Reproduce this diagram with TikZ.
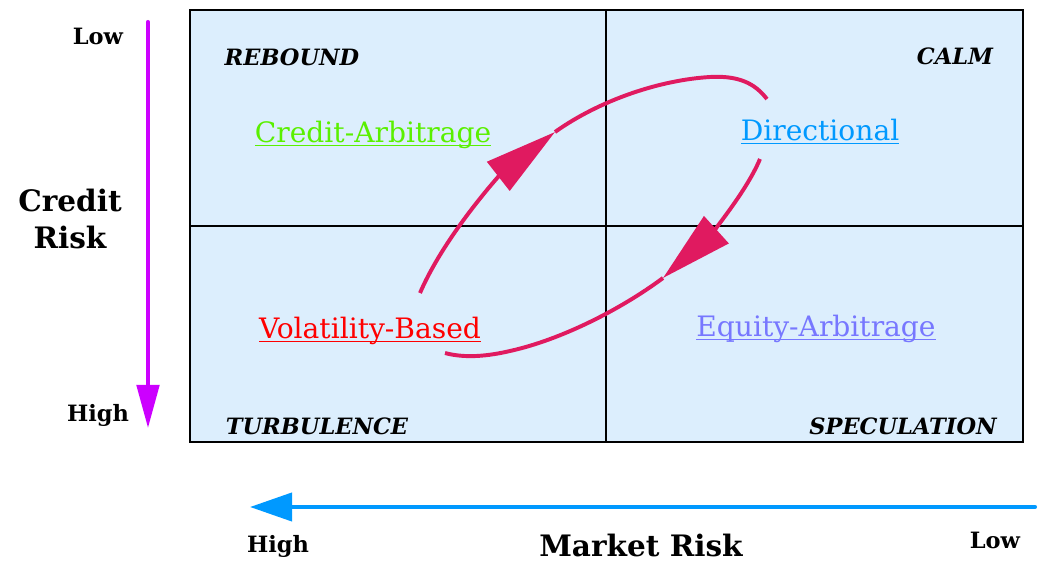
\documentclass[tikz,border=0pt]{standalone}
\usepackage{fontspec}
\setmainfont{DejaVu Serif}
\usetikzlibrary{arrows.meta,positioning}

\definecolor{quadfill}{RGB}{220,238,253}
\definecolor{cyclered}{RGB}{224,26,96}
\definecolor{creditaxis}{RGB}{204,0,255}
\definecolor{marketaxis}{RGB}{0,153,255}
\definecolor{creditarb}{RGB}{90,240,0}
\definecolor{directional}{RGB}{0,153,255}
\definecolor{volbased}{RGB}{255,0,0}
\definecolor{equityarb}{RGB}{119,119,255}

% underlined strategy name, rule runs through the descenders
\newcommand{\linked}[1]{\sbox0{#1}\rlap{\rule[-0.12em]{\wd0}{0.06em}}\usebox0}

\begin{document}
\begin{tikzpicture}[x=0.025cm, y=-0.025cm,
  axislabel/.style={font=\fontsize{16}{18}\selectfont\bfseries, anchor=base},
  axistitle/.style={font=\fontsize{21}{27}\selectfont\bfseries, anchor=base, align=center},
  regime/.style={font=\fontsize{16}{18}\selectfont\bfseries\itshape, anchor=base},
  strategy/.style={font=\fontsize{20}{24}\selectfont, anchor=base},
  cyclepath/.style={cyclered, line width=2.8pt},
  bigtip/.style={-{Triangle[length=1.8cm, width=0.9cm]}},
  grid/.style={line width=1.4pt}]

\useasboundingbox (0,0) rectangle (1042,564);

% Quadrants
\coordinate (nw) at (190,10);
\coordinate (se) at (1023,442);
\draw[grid, fill=quadfill] (nw) rectangle (se);
\draw[grid] (606,10) -- (606,442);
\draw[grid] (190,226) -- (1023,226);

% Credit risk axis
\coordinate (credtop) at (148,22);
\coordinate (credbot) at (148,428);
\draw[creditaxis, line width=2.9pt, line cap=round, -{Triangle[length=1.08cm, width=0.56cm]}] (credtop) -- (credbot);
\node[axislabel] (credlow) at (98,45) {Low};
\node[axislabel] (credhigh) at (98,421) {High};
\node[axistitle] (credtitle) at (70,249) {Credit\\Risk};

% Market risk axis
\coordinate (mkttail) at (1035,507);
\coordinate (mkthead) at (250,507);
\draw[marketaxis, line width=2.9pt, line cap=round, -{Triangle[length=1.05cm, width=0.7cm]}] (mkttail) -- (mkthead);
\node[axislabel] (mkthigh) at (278,552) {High};
\node[axislabel] (mktlow) at (995,548) {Low};
\node[axistitle, inner sep=0pt] (mkttitle) at (641,556) {Market Risk};

% Regimes
\node[regime] (rebound) at (292,66) {REBOUND};
\node[regime] (calm) at (955,65) {CALM};
\node[regime] (turbulence) at (317,435) {TURBULENCE};
\node[regime] (speculation) at (903,435) {SPECULATION};

% Strategies
\node[strategy, text=creditarb] (credarb) at (373,143) {\linked{Credit-Arbitrage}};
\node[strategy, text=directional] (direc) at (820,141) {\linked{Directional}};
\node[strategy, text=volbased] (volb) at (370,339) {\linked{Volatility-Based}};
\node[strategy, text=equityarb] (eqarb) at (816,337) {\linked{Equity-Arbitrage}};

% Rotation cycle
\coordinate (volstart) at (420,293);
\coordinate (uptip) at (555,132);
\coordinate (dirend) at (767,99);
\coordinate (dirstart) at (760,159);
\coordinate (downtip) at (663,278);
\coordinate (volend) at (445,353);
\draw[cyclepath, bigtip] (volstart) .. controls (445,235) and (500,175) .. (uptip);
\draw[cyclepath] (uptip) .. controls (600,100) and (660,80) .. (710,77) .. controls (745,75) and (758,88) .. (dirend);
\draw[cyclepath, bigtip] (dirstart) .. controls (745,195) and (705,240) .. (downtip);
\draw[cyclepath] (downtip) .. controls (620,310) and (560,340) .. (510,351) .. controls (480,358) and (460,357) .. (volend);

\end{tikzpicture}
\end{document}
